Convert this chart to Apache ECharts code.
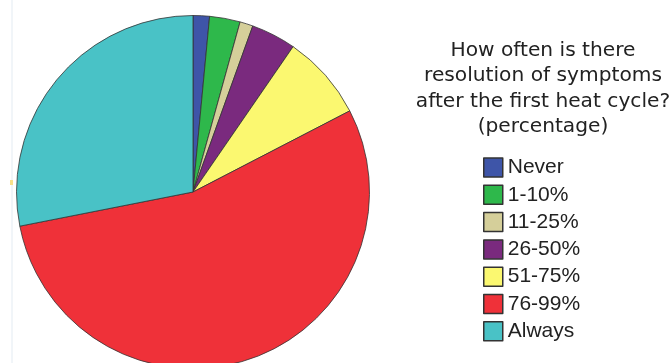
<!DOCTYPE html>
<html><head><meta charset="utf-8">
<script src="https://cdn.jsdelivr.net/npm/echarts@6/dist/echarts.min.js"></script>
<style>html,body{margin:0;padding:0;background:#fff}#c{width:671px;height:363px}</style>
</head><body><div id="c"></div>
<script>
const categories = ['Never','1-10%','11-25%','26-50%','51-75%','76-99%','Always'];
const values = [1.5, 2.8, 1.2, 4.1, 7.8, 54.5, 28.1];
const colors = ['#3e55a8','#2eb84b','#d5cf9a','#7a2a7e','#fbf870','#ef3139','#49c2c6'];
const titleText = 'How often is there\nresolution of symptoms\nafter the first heat cycle?\n(percentage)';

const chart = echarts.init(document.getElementById('c'), null, {renderer:'canvas'});
chart.setOption({
  animation:false,
  backgroundColor:'#fff',
  color: colors,
  title:{
    text: titleText,
    left: 538, top: 33, textAlign:'center',
    textStyle:{fontFamily:'DejaVu Sans', fontWeight:'normal', fontSize:20.2, color:'#222', lineHeight:25.5}
  },
  legend:{
    orient:'vertical', left:478, top:152, height:220,
    itemWidth:19, itemHeight:19, itemGap:6.3, itemTextGap:6,
    icon:'rect',
    itemStyle:{borderColor:'#333', borderWidth:1.5},
    textStyle:{fontFamily:'Liberation Sans', fontSize:21, lineHeight:19, color:'#222'},
    data: categories
  },
  graphic:[
    {type:'line', shape:{x1:12,y1:0,x2:12,y2:363}, style:{stroke:'#e3ebf2', lineWidth:1}, silent:true},
    {type:'rect', shape:{x:10,y:180,width:3,height:5}, style:{fill:'#f7e08a'}, silent:true}
  ],
  series:[{
    type:'pie',
    center:[193,192],
    radius:[0,176.5],
    startAngle:90,
    clockwise:true,
    label:{show:false},
    labelLine:{show:false},
    itemStyle:{borderColor:'#333', borderWidth:0.8},
    emphasis:{disabled:true},
    data: categories.map((c,i)=>({name:c, value:values[i]}))
  }]
});
</script></body></html>
